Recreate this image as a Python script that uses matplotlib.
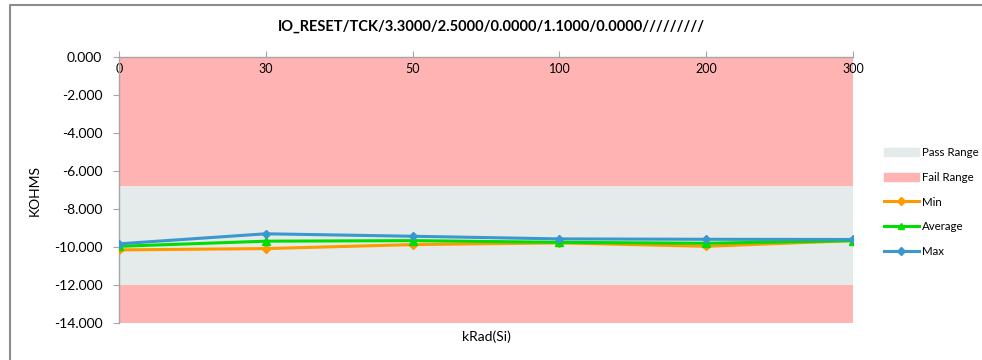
import matplotlib
matplotlib.use('Agg')
import matplotlib.pyplot as plt
from matplotlib.patches import Patch
from matplotlib.lines import Line2D

plt.rcParams['font.family'] = ['Lato', 'DejaVu Sans']

# ── Data ──────────────────────────────────────────────────────────────────
categories = ["0", "30", "50", "100", "200", "300"]
min_vals = [-10.16, -10.09, -9.88, -9.79, -9.97, -9.67]
avg_vals = [-9.97, -9.70, -9.67, -9.76, -9.81, -9.67]
max_vals = [-9.84, -9.31, -9.44, -9.58, -9.60, -9.61]

pass_low, pass_high = -12.0, -6.77
axis_low, axis_high = -14.0, 0.0

TITLE = "IO_RESET/TCK/3.3000/2.5000/0.0000/1.1000/0.0000/////////"

PASS_COLOR = '#E5EAEA'
FAIL_COLOR = '#FFB3B3'
MIN_COLOR = '#FF9900'
AVG_COLOR = '#00DD00'
MAX_COLOR = '#3A97CF'

fig = plt.figure(figsize=(9.82, 3.6), dpi=100)
ax = fig.add_axes([119 / 982, 1 - 322.7 / 360, 734 / 982, 265.4 / 360])

x = list(range(len(categories)))
n = len(x)

# ranges
ax.fill_between(x, [pass_high] * n, [axis_high] * n, color=FAIL_COLOR, lw=0, zorder=1)
ax.fill_between(x, [axis_low] * n, [pass_low] * n, color=FAIL_COLOR, lw=0, zorder=1)
ax.fill_between(x, [pass_low] * n, [pass_high] * n, color=PASS_COLOR, lw=0, zorder=1)

ax.plot(x, min_vals, color=MIN_COLOR, lw=2.2, marker='D', ms=4.5, zorder=3)
ax.plot(x, avg_vals, color=AVG_COLOR, lw=2.2, marker='^', ms=5.5, zorder=4)
ax.plot(x, max_vals, color=MAX_COLOR, lw=2.2, marker='D', ms=4.5, zorder=5)

ax.set_xlim(0, n - 1)
ax.set_ylim(axis_low, axis_high)
ax.set_yticks(range(-14, 1, 2))
ax.yaxis.set_major_formatter(matplotlib.ticker.FormatStrFormatter('%.3f'))
ax.set_xticks(x)
ax.set_xticklabels(categories)

for side in ['right', 'bottom']:
    ax.spines[side].set_visible(False)
for side in ['left', 'top']:
    ax.spines[side].set_color('#A6A6A6')
    ax.spines[side].set_linewidth(1.0)

ax.tick_params(axis='x', top=True, bottom=False, labeltop=True, labelbottom=False,
               direction='out', length=4, color='#A6A6A6', pad=-17, labelsize=9)
ax.tick_params(axis='y', direction='out', length=4, color='#A6A6A6', labelsize=10, pad=8)

ax.set_xlabel('kRad(Si)', fontsize=10)
ax.xaxis.set_label_coords(0.5, -0.03)
ax.set_ylabel('KOHMS', fontsize=10)
ax.yaxis.set_label_coords(-0.107, 0.5)

fig.text(0.5, 1 - 27 / 360, TITLE, ha='center', va='center',
         fontsize=10.5, fontweight='bold')

handles = [
    Patch(color=PASS_COLOR),
    Patch(color=FAIL_COLOR),
    Line2D([], [], color=MIN_COLOR, lw=2.2, marker='D', ms=4),
    Line2D([], [], color=AVG_COLOR, lw=2.2, marker='^', ms=5),
    Line2D([], [], color=MAX_COLOR, lw=2.2, marker='D', ms=4),
]
labels = ['Pass Range', 'Fail Range', 'Min', 'Average', 'Max']
fig.legend(handles, labels, loc='center left', bbox_to_anchor=(884 / 982, 1 - 202 / 360),
           frameon=False, fontsize=8.3, handlelength=3.0, handletextpad=0.3,
           labelspacing=1.2, borderaxespad=0, borderpad=0)

# outer chart border (left and top edges)
fig.add_artist(Line2D([10 / 982, 10 / 982, 1], [0, 1 - 5 / 360, 1 - 5 / 360],
                      transform=fig.transFigure, color='#8C8C8C', lw=1.5))

plt.savefig('out.png', dpi=100)
plt.close()
